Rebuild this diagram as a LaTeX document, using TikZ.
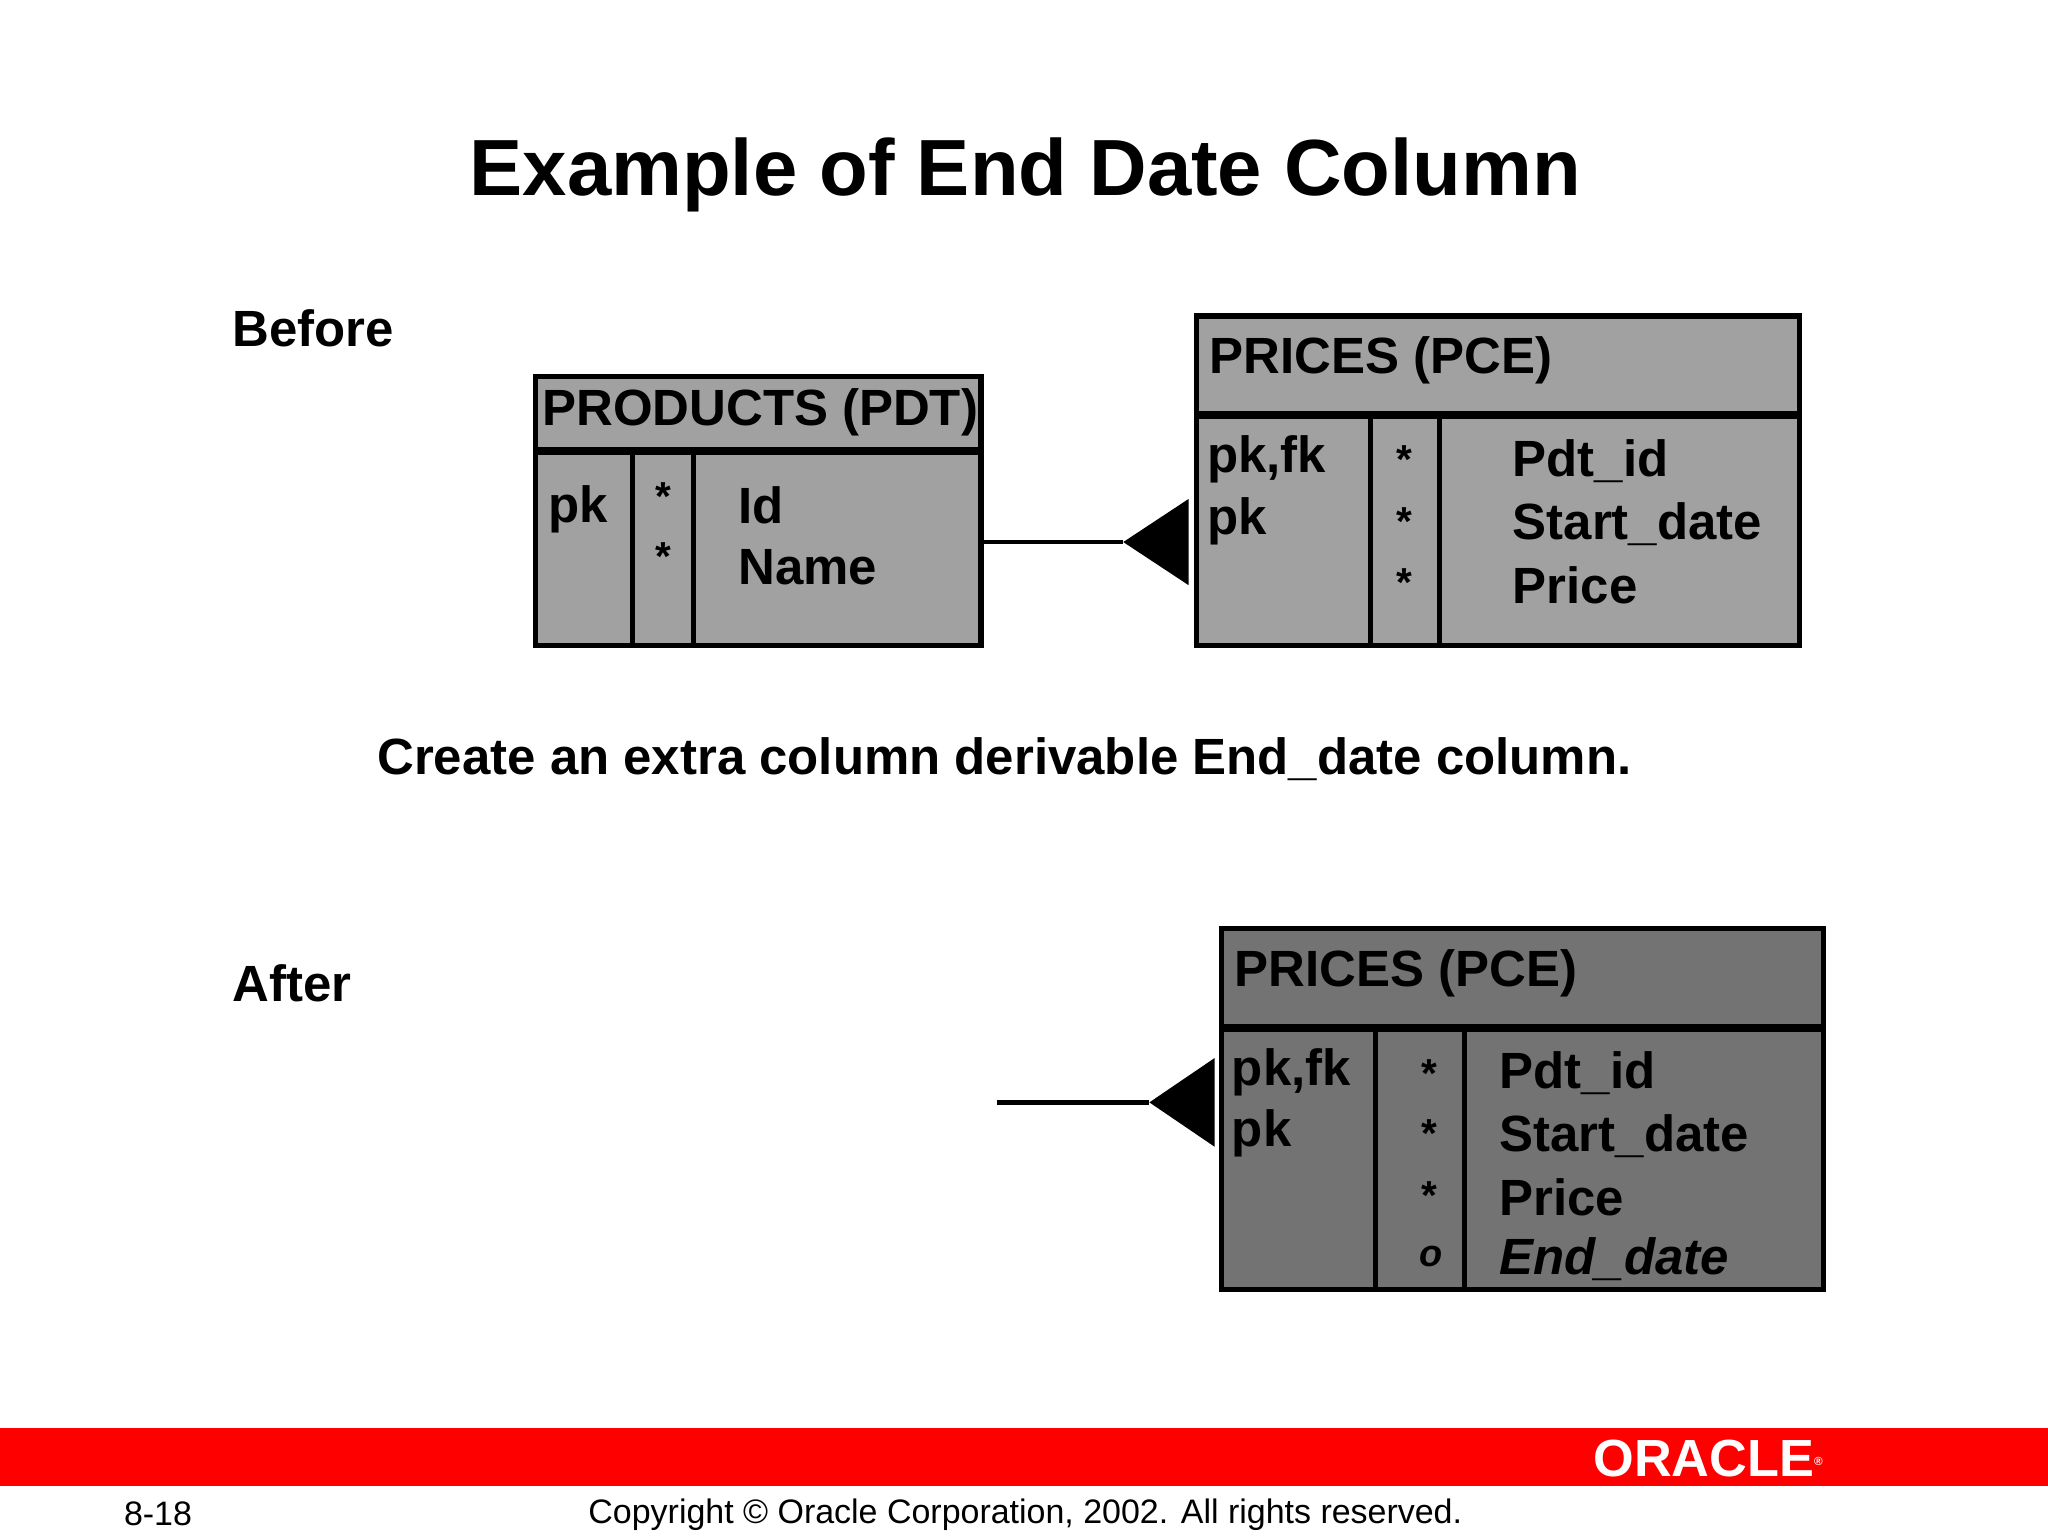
\documentclass[tikz,border=0pt]{standalone}
\usepackage{fontspec}
\setmainfont{Liberation Sans}
\begin{document}
\begin{tikzpicture}[x=1pt,y=-1pt,
  tbl/.style={draw=black,line width=4pt},
  big/.style={font=\fontsize{39}{42}\selectfont\bfseries,inner sep=0pt},
  lbl/.style={big,anchor=west},
  star/.style={font=\fontsize{31}{31}\selectfont\bfseries,inner sep=0pt}]
\useasboundingbox (0,0) rectangle (1568,1176);
\fill[white] (0,0) rectangle (1568,1176);
\node[font=\fontsize{61}{66}\selectfont\bfseries] (title) at (785,134) {Example of End Date Column};
\node[lbl] (before) at (178,251) {Before};
\node[lbl] (after) at (178,753) {After};
\node[big] (create) at (769,581) {Create an extra column derivable End\_date column.};
% products
\filldraw[tbl,fill=black!37] (410,288) rectangle (751,494);
\node[draw=none,inner sep=0pt,minimum width=341pt,minimum height=206pt] (pdt) at (580.5,391) {};
\draw[line width=6pt] (410,345) -- (751,345);
\draw[tbl] (484,345) -- (484,494) (531,345) -- (531,494);
\node[lbl] (pdth) at (415,316) {PRODUCTS (PDT)};
\node[lbl] (pdtpk) at (420,390) {pk};
\node[star] (s1) at (508,380) {*};
\node[star] (s2) at (508,426) {*};
\node[lbl] (pid) at (565,387) {Id};
\node[lbl] (pname) at (565,434) {Name};
% prices before
\filldraw[tbl,fill=black!37] (916,242) rectangle (1378,494);
\node[inner sep=0pt,minimum width=462pt,minimum height=252pt] (pce) at (1147,368) {};
\draw[line width=6pt] (916,318) -- (1378,318);
\draw[tbl] (1049,318) -- (1049,494) (1102,318) -- (1102,494);
\node[lbl] (pceh) at (926,276) {PRICES (PCE)};
\node[lbl] at (924,352) {pk,fk};
\node[lbl] at (924,399) {pk};
\node[star] at (1075,352) {*};
\node[star] at (1075,399) {*};
\node[star] at (1075,446) {*};
\node[lbl] at (1158,353) {Pdt\_id};
\node[lbl] at (1158,401) {Start\_date};
\node[lbl] at (1158,448) {Price};
\coordinate (tb) at (860,415);
\draw[line width=3.5pt] (pdt.east |- tb) -- (tb);
\fill (tb) -- (910,382) -- (910,448) -- cycle;
% prices after
\filldraw[tbl,fill=black!55] (935,711) rectangle (1396,987);
\node[inner sep=0pt,minimum width=461pt,minimum height=276pt] (pce2) at (1165.5,849) {};
\draw[line width=6pt] (935,787) -- (1396,787);
\draw[tbl] (1053,787) -- (1053,987) (1121,787) -- (1121,987);
\node[lbl] at (945,745) {PRICES (PCE)};
\node[lbl] at (943,821) {pk,fk};
\node[lbl] at (943,868) {pk};
\node[star] at (1094,822) {*};
\node[star] at (1094,868) {*};
\node[star] at (1094,915) {*};
\node[star,font=\fontsize{29}{29}\selectfont\bfseries\itshape] at (1096,962) {o};
\node[lbl] at (1148,822) {Pdt\_id};
\node[lbl] at (1148,870) {Start\_date};
\node[lbl] at (1148,917) {Price};
\node[lbl,font=\fontsize{39}{42}\selectfont\bfseries\itshape] at (1148,964) {End\_date};
\coordinate (la) at (763,844);
\coordinate (ta) at (880,844);
\draw[line width=3.5pt] (la) -- (ta);
\fill (ta) -- (930,810) -- (930,878) -- cycle;
% footer
\fill[red] (0,1093) rectangle (1568,1138);
\node[text=white,font=\fontsize{40}{40}\selectfont\bfseries,inner sep=0pt] (logo) at (1308,1117) {ORACLE\textsuperscript{\fontsize{9}{9}\selectfont ®}};
\node[font=\fontsize{26}{28}\selectfont,inner sep=0pt] (pg) at (121,1159) {8-18};
\node[font=\fontsize{26}{28}\selectfont,inner sep=0pt] (copy) at (785,1160) {Copyright © Oracle Corporation, 2002. All rights reserved.};
\end{tikzpicture}
\end{document}
